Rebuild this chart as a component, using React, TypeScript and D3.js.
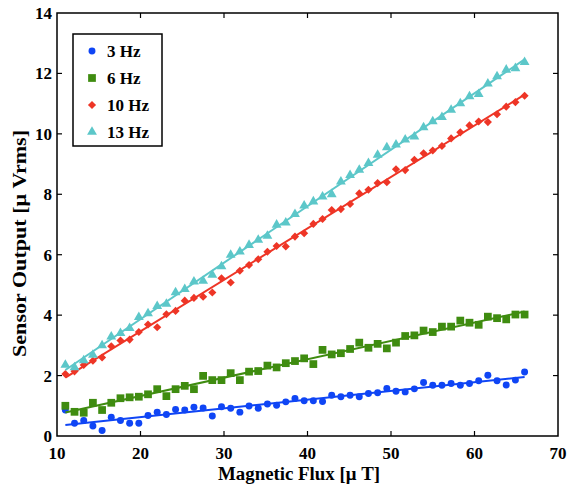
import { useEffect, useRef } from "react";
import * as d3 from "d3";

// magnetic flux values (uT), 51 points, 1.1 apart
const fluxStart = 11;
const fluxStep = 1.1;

const hz3 = [
  0.86, 0.42, 0.51, 0.33, 0.18, 0.62, 0.51, 0.42, 0.42, 0.68,
  0.79, 0.71, 0.88, 0.86, 0.95, 0.93, 0.66, 0.97, 0.92, 0.79,
  0.99, 0.92, 1.06, 1.02, 1.13, 1.24, 1.17, 1.17, 1.14, 1.35,
  1.3, 1.35, 1.3, 1.41, 1.43, 1.57, 1.48, 1.46, 1.56, 1.77,
  1.68, 1.68, 1.74, 1.68, 1.74, 1.83, 2.01, 1.83, 1.69, 1.85, 2.12,
];
const hz6 = [
  1.0, 0.8, 0.77, 1.1, 0.86, 1.1, 1.25, 1.28, 1.3, 1.38,
  1.55, 1.32, 1.55, 1.66, 1.55, 1.99, 1.85, 1.85, 2.08, 1.85,
  2.13, 2.15, 2.33, 2.27, 2.41, 2.48, 2.57, 2.38, 2.85, 2.7,
  2.74, 2.88, 3.09, 2.92, 3.05, 2.9, 3.09, 3.31, 3.33, 3.49,
  3.44, 3.62, 3.62, 3.82, 3.75, 3.68, 3.95, 3.9, 3.86, 4.02, 4.02,
];
const hz10 = [
  2.05, 2.14, 2.35, 2.49, 2.6, 2.97, 3.16, 3.19, 3.44, 3.69,
  3.6, 4.03, 4.14, 4.48, 4.57, 4.61, 4.75, 5.22, 5.08, 5.47,
  5.66, 5.85, 6.1, 6.29, 6.27, 6.6, 6.71, 7.02, 7.18, 7.48,
  7.51, 7.68, 8.03, 8.15, 8.37, 8.4, 8.83, 8.8, 9.14, 9.36,
  9.45, 9.6, 9.85, 10.05, 10.28, 10.41, 10.39, 10.65, 10.9, 11.05, 11.26,
];
const hz13 = [
  2.35, 2.27, 2.5, 2.68, 3.0, 3.29, 3.4, 3.57, 3.93, 4.06,
  4.3, 4.37, 4.75, 4.86, 5.11, 5.13, 5.33, 5.61, 5.99, 6.1,
  6.32, 6.49, 6.62, 6.99, 7.06, 7.34, 7.62, 7.76, 7.92, 8.0,
  8.42, 8.63, 8.81, 9.03, 9.3, 9.55, 9.64, 9.81, 9.91, 10.21,
  10.41, 10.55, 10.79, 11.01, 11.24, 11.31, 11.66, 11.9, 12.12, 12.17, 12.37,
];

const seriesNames = ["3 Hz", "6 Hz", "10 Hz", "13 Hz"];
const seriesValues = [hz3, hz6, hz10, hz13];
const seriesColors = ["#0f45f5", "#3f8c10", "#ee3526", "#5cc7c9"];
const seriesSymbols = [d3.symbolCircle, d3.symbolSquare, d3.symbolDiamond2, d3.symbolTriangle];
const symbolSizes = [38, 60, 42, 42];

const xTicks = [10, 20, 30, 40, 50, 60, 70];
const yTicks = [0, 2, 4, 6, 8, 10, 12, 14];

const App = () => {
  const ref = useRef<SVGSVGElement>(null);
  const width = 569;
  const height = 489;

  useEffect(() => {
    const svg = d3.select(ref.current);
    svg.selectAll("*").remove();

    const left = 57;
    const right = 558;
    const top = 13;
    const bottom = 436;

    const x = d3.scaleLinear().domain([10, 70]).range([left, right]);
    const y = d3.scaleLinear().domain([0, 14]).range([bottom, top]);

    const font = "'Liberation Serif', 'Times New Roman', Times, serif";

    // ticks (inside, on all four sides)
    const tickLen = 5;
    const g = svg.append("g").attr("stroke", "black").attr("stroke-width", 1.2);
    xTicks.slice(1, -1).forEach((t) => {
      g.append("line").attr("x1", x(t)).attr("x2", x(t)).attr("y1", bottom).attr("y2", bottom - tickLen);
      g.append("line").attr("x1", x(t)).attr("x2", x(t)).attr("y1", top).attr("y2", top + tickLen);
    });
    yTicks.slice(1, -1).forEach((t) => {
      g.append("line").attr("x1", left).attr("x2", left + tickLen).attr("y1", y(t)).attr("y2", y(t));
      g.append("line").attr("x1", right).attr("x2", right - tickLen).attr("y1", y(t)).attr("y2", y(t));
    });

    const txt = svg.append("g").attr("font-family", font).attr("font-weight", "bold");

    txt
      .append("text")
      .attr("x", 299)
      .attr("y", 480)
      .attr("text-anchor", "middle")
      .attr("font-size", 18.5)
      .attr("textLength", 162)
      .attr("lengthAdjust", "spacingAndGlyphs")
      .text("Magnetic Flux [\u03bc T]");

    txt
      .append("text")
      .attr("transform", `translate(26,243.5) rotate(-90)`)
      .attr("text-anchor", "middle")
      .attr("font-size", 18)
      .attr("textLength", 227)
      .attr("lengthAdjust", "spacingAndGlyphs")
      .text("Sensor Output [\u03bc Vrms]");

    txt
      .selectAll("xlabels")
      .data(xTicks)
      .enter()
      .append("text")
      .attr("x", (d) => x(d))
      .attr("y", 459)
      .attr("text-anchor", "middle")
      .attr("font-size", 17)
      .text((d) => d);

    txt
      .selectAll("ylabels")
      .data(yTicks)
      .enter()
      .append("text")
      .attr("x", left - 5)
      .attr("y", (d) => y(d) + 6)
      .attr("text-anchor", "end")
      .attr("font-size", 17)
      .text((d) => d);

    const plot = svg.append("g");

    seriesValues.forEach((vals, si) => {
      const pts = vals.map((v, i) => [fluxStart + fluxStep * i, v]);
      // least squares fit
      const mx = d3.mean(pts, (p) => p[0])!;
      const my = d3.mean(pts, (p) => p[1])!;
      const sxy = d3.sum(pts, (p) => (p[0] - mx) * (p[1] - my));
      const sxx = d3.sum(pts, (p) => (p[0] - mx) ** 2);
      const slope = sxy / sxx;
      const icpt = my - slope * mx;
      const x0 = pts[0][0];
      const x1 = pts[pts.length - 1][0];

      plot
        .append("line")
        .attr("x1", x(x0))
        .attr("y1", y(icpt + slope * x0))
        .attr("x2", x(x1))
        .attr("y2", y(icpt + slope * x1))
        .attr("stroke", seriesColors[si])
        .attr("stroke-width", 2);

      const sym = d3.symbol().type(seriesSymbols[si]).size(symbolSizes[si]);
      plot
        .selectAll("pts" + si)
        .data(pts)
        .enter()
        .append("path")
        .attr("d", sym)
        .attr("transform", (d) => `translate(${x(d[0])},${y(d[1])})`)
        .attr("fill", seriesColors[si]);
    });

    // frame
    svg
      .append("rect")
      .attr("x", left)
      .attr("y", top)
      .attr("width", right - left)
      .attr("height", bottom - top)
      .attr("fill", "none")
      .attr("stroke", "black")
      .attr("stroke-width", 1.5);

    // legend
    const lg = svg.append("g");
    lg.append("rect")
      .attr("x", 73)
      .attr("y", 34)
      .attr("width", 89)
      .attr("height", 112)
      .attr("fill", "white")
      .attr("stroke", "black")
      .attr("stroke-width", 1.5);

    seriesNames.forEach((name, si) => {
      const ly = 51 + si * 27;
      lg.append("path")
        .attr("d", d3.symbol().type(seriesSymbols[si]).size(symbolSizes[si])())
        .attr("transform", `translate(92,${ly})`)
        .attr("fill", seriesColors[si]);
      lg.append("text")
        .attr("x", 107)
        .attr("y", ly + 6)
        .attr("font-family", font)
        .attr("font-weight", "bold")
        .attr("font-size", 17)
        .text(name);
    });
  }, []);

  return (
    <svg
      ref={ref}
      width={width}
      height={height}
      style={{ position: "absolute", left: 0, top: 0, background: "white" }}
    />
  );
};

export default App;
